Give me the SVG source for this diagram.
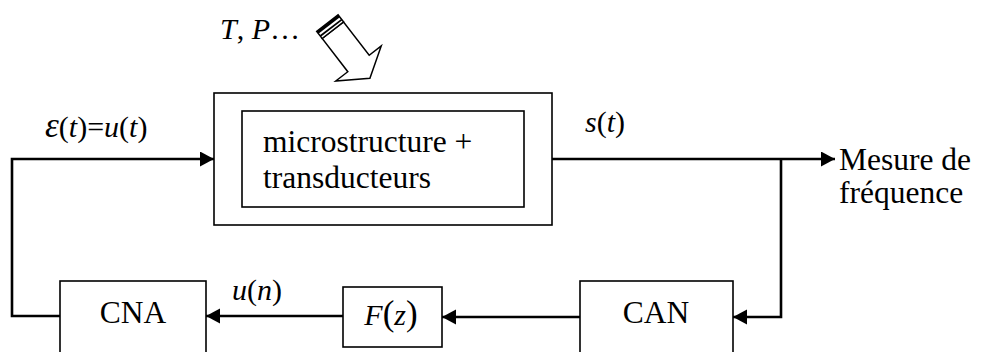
<svg xmlns="http://www.w3.org/2000/svg" width="989" height="352" viewBox="0 0 989 352">
<style>
text{font-family:"Liberation Serif","Times New Roman",serif;fill:#000}
.t{font-size:31.5px}
.i{font-size:30px;font-style:italic}
.n{font-style:normal}
.box{fill:#fff;stroke:#000;stroke-width:1.6}
.line{fill:none;stroke:#000;stroke-width:2.6}
</style>
<defs>
<marker id="ah" markerWidth="16" markerHeight="16" refX="14" refY="7.5" orient="auto" markerUnits="userSpaceOnUse">
<path d="M0,0 L14,7.5 L0,15 Z" fill="#000"/>
</marker>
</defs>
<rect width="989" height="352" fill="#fff"/>

<g id="connectors">
<path class="line" d="M60,316 H12 V159 H214" marker-end="url(#ah)"/>
<path class="line" d="M552,159 H835" marker-end="url(#ah)"/>
<path class="line" d="M781,159 V317 H733" marker-end="url(#ah)"/>
<path class="line" d="M580,317 H442" marker-end="url(#ah)"/>
<path class="line" d="M343,316 H206" marker-end="url(#ah)"/>
</g>

<g id="env">
<text x="220" y="39" class="i" font-size="31">T<tspan class="n">, </tspan>P<tspan class="n">…</tspan></text>
<g transform="translate(358.5,63.5) rotate(-37.6)" stroke="#000" fill="#fff" stroke-width="1.5" stroke-linejoin="miter">
<path d="M-13.5,-42 L13.5,-42 L13.5,0 L28.7,0 L0,18.7 L-28.7,0 L-13.5,0 Z"/>
<rect x="-13.5" y="-51" width="27" height="9"/>
<line x1="-13.5" y1="-49.5" x2="13.5" y2="-49.5" stroke-width="2.8"/>
<line x1="-13.5" y1="-45" x2="13.5" y2="-45" stroke-width="1.8"/>
</g>
</g>

<g id="system">
<rect class="box" x="214" y="93" width="338" height="132" stroke-width="2"/>
<rect class="box" x="242" y="111" width="282" height="96"/>
<text x="263" y="152" class="t">microstructure +</text>
<text x="263" y="188" class="t">transducteurs</text>
</g>

<g id="cna">
<rect class="box" x="60" y="281" width="146" height="90"/>
<text x="133" y="323" class="t" text-anchor="middle">CNA</text>
</g>

<g id="filter">
<rect class="box" x="343" y="287" width="99" height="60"/>
<text x="391" y="325" class="i" text-anchor="middle">F<tspan class="n" font-size="35">(</tspan>z<tspan class="n" font-size="35">)</tspan></text>
</g>

<g id="can">
<rect class="box" x="580" y="281" width="153" height="90"/>
<text x="656" y="323" class="t" text-anchor="middle">CAN</text>
</g>

<g id="labels">
<text x="45" y="137" class="i" font-size="31"><tspan font-size="35">ε</tspan><tspan class="n">(</tspan>t<tspan class="n">)=</tspan>u<tspan class="n">(</tspan>t<tspan class="n">)</tspan></text>
<text x="585" y="132" class="i" font-size="28">s<tspan class="n">(</tspan>t<tspan class="n">)</tspan></text>
<text x="232" y="300" class="i" font-size="31">u<tspan class="n">(</tspan>n<tspan class="n">)</tspan></text>
<text x="839" y="170" class="t" font-size="27.5">Mesure de</text>
<text x="839" y="203" class="t" font-size="28">fréquence</text>
</g>
</svg>
